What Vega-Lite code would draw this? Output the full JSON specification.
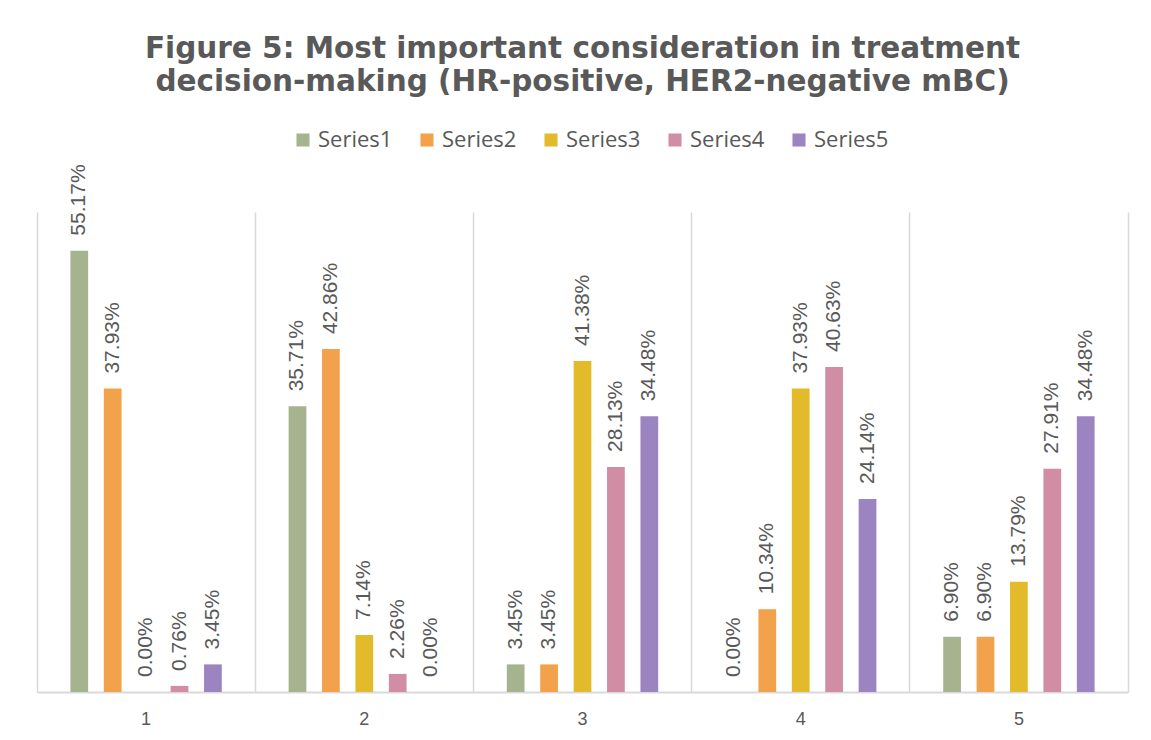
{
  "$schema": "https://vega.github.io/schema/vega-lite/v6.json",
  "autosize": {"type": "none"},
  "padding": {"left": 37, "top": 212, "right": 23, "bottom": 48},
  "width": 1091,
  "height": 480,
  "background": "white",
  "config": {"view": {"stroke": null}},
  "title": {
    "text": ["Figure 5: Most important consideration in treatment", "decision-making (HR-positive, HER2-negative mBC)"],
    "font": "DejaVu Sans",
    "fontSize": 29.5,
    "fontWeight": "bold",
    "color": "#595959",
    "lineHeight": 33,
    "anchor": "middle",
    "offset": 32
  },
  "data": {
    "values": [
      {"category": "1", "series": "Series1", "value": 0.5517},
      {"category": "1", "series": "Series2", "value": 0.3793},
      {"category": "1", "series": "Series3", "value": 0.0},
      {"category": "1", "series": "Series4", "value": 0.0076},
      {"category": "1", "series": "Series5", "value": 0.0345},
      {"category": "2", "series": "Series1", "value": 0.3571},
      {"category": "2", "series": "Series2", "value": 0.4286},
      {"category": "2", "series": "Series3", "value": 0.0714},
      {"category": "2", "series": "Series4", "value": 0.0226},
      {"category": "2", "series": "Series5", "value": 0.0},
      {"category": "3", "series": "Series1", "value": 0.0345},
      {"category": "3", "series": "Series2", "value": 0.0345},
      {"category": "3", "series": "Series3", "value": 0.4138},
      {"category": "3", "series": "Series4", "value": 0.2813},
      {"category": "3", "series": "Series5", "value": 0.3448},
      {"category": "4", "series": "Series1", "value": 0.0},
      {"category": "4", "series": "Series2", "value": 0.1034},
      {"category": "4", "series": "Series3", "value": 0.3793},
      {"category": "4", "series": "Series4", "value": 0.4063},
      {"category": "4", "series": "Series5", "value": 0.2414},
      {"category": "5", "series": "Series1", "value": 0.069},
      {"category": "5", "series": "Series2", "value": 0.069},
      {"category": "5", "series": "Series3", "value": 0.1379},
      {"category": "5", "series": "Series4", "value": 0.2791},
      {"category": "5", "series": "Series5", "value": 0.3448}
    ]
  },
  "encoding": {
    "x": {
      "field": "category",
      "type": "nominal",
      "scale": {"paddingInner": 0, "paddingOuter": 0},
      "axis": {
        "title": null,
        "bandPosition": 0,
        "grid": true,
        "gridColor": "#d9d9d9",
        "gridWidth": 1.5,
        "ticks": false,
        "domainColor": "#d9d9d9",
        "domainWidth": 2,
        "labelAngle": 0,
        "labelPadding": 18,
        "labelFont": "Liberation Sans",
        "labelFontSize": 18,
        "labelColor": "#595959"
      }
    },
    "xOffset": {
      "field": "series",
      "type": "nominal",
      "scale": {"paddingInner": 0.469, "paddingOuter": 1.14}
    },
    "y": {
      "field": "value",
      "type": "quantitative",
      "scale": {"domain": [0, 0.6], "nice": false},
      "axis": {
        "orient": "right",
        "title": null,
        "labels": false,
        "ticks": false,
        "grid": false,
        "domainColor": "#d9d9d9",
        "domainWidth": 1.5
      }
    }
  },
  "layer": [
    {
      "mark": {"type": "bar"},
      "encoding": {
        "color": {
          "field": "series",
          "type": "nominal",
          "scale": {
            "domain": ["Series1", "Series2", "Series3", "Series4", "Series5"],
            "range": ["#a5b38f", "#f2a24a", "#e3ba2a", "#d08da3", "#9b84bf"]
          },
          "legend": {
            "title": null,
            "orient": "none",
            "legendX": 255,
            "legendY": -83,
            "direction": "horizontal",
            "symbolType": "square",
            "symbolSize": 170,
            "symbolStrokeWidth": 0,
            "labelFont": "Open Sans",
            "labelFontSize": 22,
            "labelColor": "#595959",
            "labelOffset": 4,
            "columnPadding": 23
          }
        }
      }
    },
    {
      "mark": {
        "type": "text",
        "angle": 270,
        "align": "left",
        "baseline": "middle",
        "dx": 15,
        "font": "Liberation Sans",
        "fontSize": 21,
        "color": "#595959"
      },
      "encoding": {
        "text": {"field": "value", "type": "quantitative", "format": ".2%"}
      }
    }
  ]
}
